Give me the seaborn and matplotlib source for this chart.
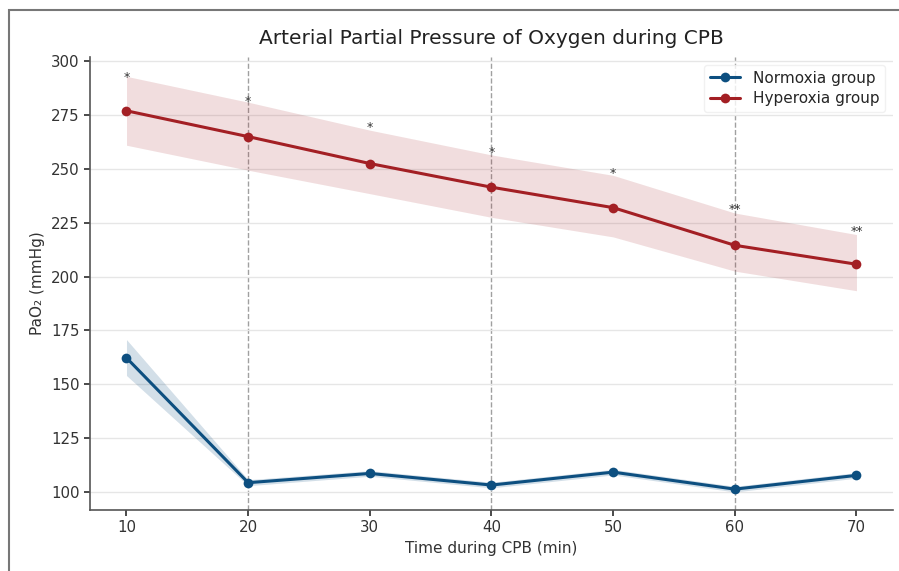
import numpy as np
import pandas as pd
import seaborn as sns
import matplotlib
matplotlib.use("Agg")
import matplotlib.pyplot as plt
from matplotlib.patches import Rectangle

# ---- data ----
times = [10, 20, 30, 40, 50, 60, 70]
normoxia_mean = [162.2, 104.2, 108.5, 103.1, 109.1, 101.2, 107.6]
normoxia_low = [154.0, 102.8, 107.2, 101.8, 107.8, 99.9, 106.3]
normoxia_high = [170.7, 105.6, 109.8, 104.4, 110.4, 102.5, 108.9]
hyperoxia_mean = [277.0, 265.0, 252.5, 241.5, 232.0, 214.5, 205.7]
hyperoxia_low = [261.0, 249.4, 238.5, 227.5, 218.4, 202.5, 193.4]
hyperoxia_high = [293.0, 281.0, 268.0, 256.5, 247.0, 229.5, 219.5]
sig_labels = ["*", "*", "*", "*", "*", "**", "**"]
group_names = ["Normoxia group", "Hyperoxia group"]
ref_times = [20, 40, 60]

blue = "#0d4f80"
red = "#a31f24"

df = pd.DataFrame({
    "time": times * 2,
    "pao2": normoxia_mean + hyperoxia_mean,
    "group": [group_names[0]] * len(times) + [group_names[1]] * len(times),
})

sns.set_theme(style="ticks")
plt.rcParams["font.family"] = ["DejaVu Sans"]

fig = plt.figure(figsize=(8.99, 5.71), dpi=100)
ax = fig.add_axes([0.1001, 0.1068, 0.8932, 0.7934])

sns.lineplot(data=df, x="time", y="pao2", hue="group",
             palette={group_names[0]: blue, group_names[1]: red},
             marker="o", markersize=7, markeredgewidth=0, linewidth=2.2,
             errorbar=None, ax=ax)

ax.fill_between(times, normoxia_low, normoxia_high, color=blue, alpha=0.18, linewidth=0)
ax.fill_between(times, hyperoxia_low, hyperoxia_high, color=red, alpha=0.15, linewidth=0)

for t in ref_times:
    ax.axvline(t, color="#888888", linestyle="--", linewidth=1, alpha=0.8, zorder=0)

offsets = [-3.5, -2.5, -2.0, -2.0, -2.0, -1.5, -1.5]
for t, h, s, o in zip(times, hyperoxia_high, sig_labels, offsets):
    ax.text(t, h + o, s, ha="center", va="bottom", fontsize=9, color="#333333")

ax.set_xlim(7, 73)
ax.set_ylim(91.5, 302)
ax.set_xticks(times)
ax.set_yticks([100, 125, 150, 175, 200, 225, 250, 275, 300])
ax.yaxis.grid(True, color="#e6e6e6", linewidth=1)
ax.set_axisbelow(True)
sns.despine(ax=ax)
for sp in ["left", "bottom"]:
    ax.spines[sp].set_color("#555555")
    ax.spines[sp].set_linewidth(1.2)
ax.tick_params(axis="both", labelsize=10.8, colors="#333333", length=4)

ax.set_title("Arterial Partial Pressure of Oxygen during CPB", fontsize=14.5,
             color="#222222", pad=9)
ax.set_xlabel("Time during CPB (min)", fontsize=11, color="#333333")
ax.set_ylabel("PaO₂ (mmHg)", fontsize=11, color="#333333")

leg = ax.legend(loc="upper right", fontsize=11, frameon=True, framealpha=0.8,
                edgecolor="#eeeeee", labelspacing=0.35)

fig.add_artist(Rectangle((9 / 899, -0.1), 1.2, 1.1 - 10 / 571 + 0.0,
                         transform=fig.transFigure, fill=False,
                         edgecolor="#777777", linewidth=1.5))

fig.savefig("out.png", dpi=100)
